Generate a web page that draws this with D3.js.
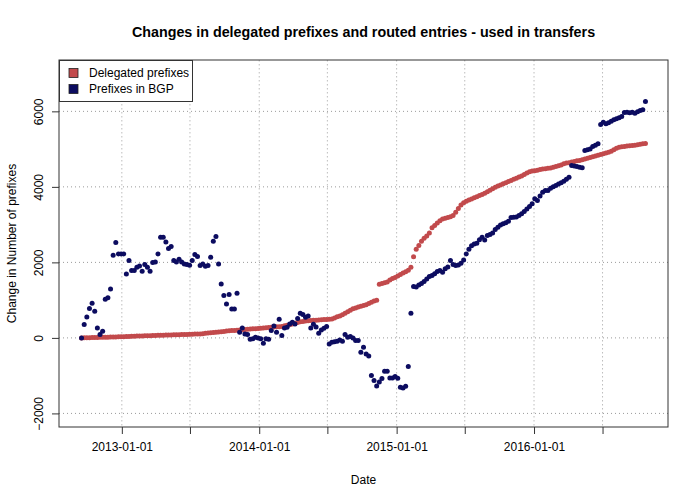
<!DOCTYPE html>
<html>
<head>
<meta charset="utf-8">
<script src="https://cdn.jsdelivr.net/npm/d3@7"></script>
<style>
  html, body { margin: 0; padding: 0; background: #fff; }
  svg text { font-family: "Liberation Sans", Arial, Helvetica, sans-serif; }
</style>
</head>
<body>
<svg id="chart" width="700" height="500"></svg>
<script>
// ---- Data (weekly observations) ----
const dates = [
  "2012-09-16","2012-09-23","2012-09-30","2012-10-07","2012-10-14","2012-10-21","2012-10-28","2012-11-04","2012-11-11","2012-11-18","2012-11-25","2012-12-02","2012-12-09","2012-12-16","2012-12-23","2012-12-30",
  "2013-01-06","2013-01-13","2013-01-20","2013-01-27","2013-02-03","2013-02-10","2013-02-17","2013-02-24","2013-03-03","2013-03-10","2013-03-17","2013-03-24","2013-03-31","2013-04-07","2013-04-14","2013-04-21","2013-04-28","2013-05-05","2013-05-12","2013-05-19","2013-05-26","2013-06-02","2013-06-09","2013-06-16","2013-06-23","2013-06-30","2013-07-07","2013-07-14","2013-07-21","2013-07-28","2013-08-04","2013-08-11","2013-08-18","2013-08-25","2013-09-01","2013-09-08","2013-09-15","2013-09-22","2013-09-29","2013-10-06","2013-10-13","2013-10-20","2013-10-27","2013-11-03","2013-11-10","2013-11-17","2013-11-24","2013-12-01","2013-12-08","2013-12-15","2013-12-22","2013-12-29",
  "2014-01-05","2014-01-12","2014-01-19","2014-01-26","2014-02-02","2014-02-09","2014-02-16","2014-02-23","2014-03-02","2014-03-09","2014-03-16","2014-03-23","2014-03-30","2014-04-06","2014-04-13","2014-04-20","2014-04-27","2014-05-04","2014-05-11","2014-05-18","2014-05-25","2014-06-01","2014-06-08","2014-06-15","2014-06-22","2014-06-29","2014-07-06","2014-07-13","2014-07-20","2014-07-27","2014-08-03","2014-08-10","2014-08-17","2014-08-24","2014-08-31","2014-09-07","2014-09-14","2014-09-21","2014-09-28","2014-10-05","2014-10-12","2014-10-19","2014-10-26","2014-11-02","2014-11-09","2014-11-16","2014-11-23","2014-11-30","2014-12-07","2014-12-14","2014-12-21","2014-12-28",
  "2015-01-04","2015-01-11","2015-01-18","2015-01-25","2015-02-01","2015-02-08","2015-02-15","2015-02-22","2015-03-01","2015-03-08","2015-03-15","2015-03-22","2015-03-29","2015-04-05","2015-04-12","2015-04-19","2015-04-26","2015-05-03","2015-05-10","2015-05-17","2015-05-24","2015-05-31","2015-06-07","2015-06-14","2015-06-21","2015-06-28","2015-07-05","2015-07-12","2015-07-19","2015-07-26","2015-08-02","2015-08-09","2015-08-16","2015-08-23","2015-08-30","2015-09-06","2015-09-13","2015-09-20","2015-09-27","2015-10-04","2015-10-11","2015-10-18","2015-10-25","2015-11-01","2015-11-08","2015-11-15","2015-11-22","2015-11-29","2015-12-06","2015-12-13","2015-12-20","2015-12-27",
  "2016-01-03","2016-01-10","2016-01-17","2016-01-24","2016-01-31","2016-02-07","2016-02-14","2016-02-21","2016-02-28","2016-03-06","2016-03-13","2016-03-20","2016-03-27","2016-04-03","2016-04-10","2016-04-17","2016-04-24","2016-05-01","2016-05-08","2016-05-15","2016-05-22","2016-05-29","2016-06-05","2016-06-12","2016-06-19","2016-06-26","2016-07-03","2016-07-10","2016-07-17","2016-07-24","2016-07-31","2016-08-07","2016-08-14","2016-08-21","2016-08-28","2016-09-04","2016-09-11","2016-09-18","2016-09-25","2016-10-02","2016-10-09","2016-10-16","2016-10-23"
];

const delegated = [
  0,2,4,6,8,10,12,14,16,18,
  20,22,24,26,28,30,33,36,38,41,
  44,47,50,52,55,58,60,63,66,68,
  70,72,74,77,79,82,84,86,89,91,
  93,96,98,100,103,105,112,120,127,135,
  142,150,157,165,172,180,188,193,199,205,
  211,216,222,228,234,240,245,251,257,262,
  268,274,280,286,292,298,305,320,335,350,
  370,390,410,425,435,445,455,460,465,470,
  475,480,485,490,495,500,525,560,580,610,
  650,690,730,770,795,815,835,855,880,910,
  945,980,1000,1420,1440,1460,1480,1530,1570,1600,
  1640,1680,1720,1750,1790,1870,2150,2350,2450,2560,
  2640,2700,2780,2920,2980,3040,3100,3150,3170,3190,
  3210,3240,3330,3430,3520,3580,3620,3650,3680,3710,
  3740,3770,3800,3830,3870,3910,3950,3990,4020,4050,
  4080,4110,4140,4170,4200,4230,4260,4290,4330,4370,
  4400,4420,4430,4440,4460,4470,4480,4490,4500,4520,
  4540,4560,4580,4610,4630,4640,4660,4670,4690,4700,
  4720,4740,4760,4780,4800,4820,4840,4860,4880,4900,
  4920,4940,4980,5020,5050,5060,5070,5080,5090,5095,
  5105,5115,5130,5140,5150
];

const bgp = [
  0,352,556,776,917,705,265,87,175,1023,
  1060,1298,2188,2525,2225,2225,2225,1695,2048,1783,
  1783,1870,1907,1764,1942,1870,1764,1995,2013,2225,
  2665,2665,2543,2366,2419,2048,2013,2083,2013,1960,
  1942,1923,2048,2207,2154,1915,1960,1897,1915,2136,
  2560,2684,1960,1430,1121,900,1147,768,768,1182,
  148,265,106,87,-37,-26,16,0,-26,-143,
  -26,-37,193,318,148,493,61,265,281,371,
  413,371,511,652,617,546,583,265,360,290,
  122,212,254,299,-159,-117,-100,-90,-53,-90,
  87,16,34,0,-72,-72,-381,-249,-424,-477,
  -999,-1131,-1272,-1166,-1078,-885,-885,-1060,-1060,-1025,
  -1070,-1309,-1325,-1282,-760,652,1359,1350,1400,1440,
  1491,1560,1624,1650,1700,1760,1783,1738,1828,1880,
  2048,1942,1915,1930,1976,2060,2225,2350,2440,2490,
  2506,2600,2665,2596,2710,2740,2780,2870,2930,2990,
  3020,3050,3090,3190,3195,3200,3240,3285,3350,3417,
  3480,3550,3682,3637,3760,3857,3902,3902,3960,4000,
  4034,4079,4110,4150,4200,4254,4564,4550,4538,4520,
  4503,4961,4980,5006,5067,5100,5139,5650,5711,5669,
  5700,5738,5775,5801,5830,5862,5968,5976,5960,5976,
  5950,5990,6021,6040,6260
];

const xTickDates = ["2013-01-01","2013-07-01","2014-01-01","2014-07-01","2015-01-01","2015-07-01","2016-01-01","2016-07-01"];
const xTickLabels = ["2013-01-01","","2014-01-01","","2015-01-01","","2016-01-01",""];
const yTicks = [-2000, 0, 2000, 4000, 6000];
const yLimits = [-2000, 7000];
const seriesNames = ["Delegated prefixes", "Prefixes in BGP"];
const seriesColors = ["#c24a4c", "#0c0c60"];

// ---- Layout ----
const svg = d3.select("#chart");
const margin = { left: 59, right: 32, top: 60, bottom: 73 };
const W = 700, H = 500;
const parse = d3.utcParse("%Y-%m-%d");
const xs = dates.map(parse);

const xExt = d3.extent(xs);
const xPad = (xExt[1] - xExt[0]) * 0.04;
const x = d3.scaleUtc()
  .domain([new Date(+xExt[0] - xPad), new Date(+xExt[1] + xPad)])
  .range([margin.left, W - margin.right]);

const yPad = (yLimits[1] - yLimits[0]) * 0.04;
const y = d3.scaleLinear()
  .domain([yLimits[0] - yPad, yLimits[1] + yPad])
  .range([H - margin.bottom, margin.top]);

const x0 = margin.left, x1 = W - margin.right, y0 = margin.top, y1 = H - margin.bottom;

// grid
const grid = svg.append("g");
grid.selectAll("line.v").data(xTickDates).join("line")
  .attr("x1", d => x(parse(d))).attr("x2", d => x(parse(d)))
  .attr("y1", y0).attr("y2", y1)
  .attr("stroke", "#bdbdbd").attr("stroke-width", 1).attr("stroke-dasharray", "1.5,2.5");
grid.selectAll("line.h").data(yTicks).join("line")
  .attr("x1", x0).attr("x2", x1)
  .attr("y1", d => y(d)).attr("y2", d => y(d))
  .attr("stroke", "#9a9a9a").attr("stroke-width", 1).attr("stroke-dasharray", "1,3");

// points
const series = [delegated, bgp];
series.forEach((vals, si) => {
  svg.append("g").selectAll("circle").data(vals).join("circle")
    .attr("cx", (d, i) => x(xs[i]))
    .attr("cy", d => y(d))
    .attr("r", 2.5)
    .attr("fill", seriesColors[si]);
});

// axes
const xAxis = d3.axisBottom(x)
  .tickValues(xTickDates.map(parse))
  .tickSize(7).tickPadding(8)
  .tickFormat((d, i) => xTickLabels[i]);
const gx = svg.append("g").attr("transform", `translate(0,${y1})`).call(xAxis);
gx.select(".domain").remove();
gx.selectAll("line").attr("stroke", "#333");
gx.selectAll("text").attr("font-size", 12).attr("fill", "#000");

const yAxis = d3.axisLeft(y).tickValues(yTicks).tickSize(7).tickFormat(d3.format("d"));
const gy = svg.append("g").attr("transform", `translate(${x0},0)`).call(yAxis);
gy.select(".domain").remove();
gy.selectAll("line").attr("stroke", "#333");
gy.selectAll("text")
  .attr("font-size", 12).attr("fill", "#000")
  .attr("text-anchor", "middle").attr("dy", null)
  .attr("x", null)
  .attr("transform", "translate(-16,0) rotate(-90)")
  .attr("y", 0);

// box
svg.append("rect")
  .attr("x", x0).attr("y", y0).attr("width", x1 - x0).attr("height", y1 - y0)
  .attr("fill", "none").attr("stroke", "#333").attr("stroke-width", 1);

// legend
const lg = svg.append("g");
lg.append("rect").attr("x", x0 + 0.5).attr("y", y0 + 0.5).attr("width", 133).attr("height", 41)
  .attr("fill", "#fff").attr("stroke", "#333");
seriesNames.forEach((name, i) => {
  const cy = y0 + 13 + i * 16;
  lg.append("rect").attr("x", x0 + 10).attr("y", cy - 4.5).attr("width", 9).attr("height", 9)
    .attr("fill", seriesColors[i]).attr("stroke", "#222").attr("stroke-width", 0.8);
  lg.append("text").attr("x", x0 + 30).attr("y", cy + 4.3).attr("font-size", 12).text(name);
});

// titles
svg.append("text").attr("x", (x0 + x1) / 2).attr("y", 37).attr("text-anchor", "middle")
  .attr("font-size", 14.3).attr("font-weight", "bold")
  .text("Changes in delegated prefixes and routed entries - used in transfers");
svg.append("text").attr("x", (x0 + x1) / 2).attr("y", 484).attr("text-anchor", "middle")
  .attr("font-size", 12).text("Date");
svg.append("text").attr("transform", `translate(16,${(y0 + y1) / 2}) rotate(-90)`)
  .attr("text-anchor", "middle").attr("font-size", 12).text("Change in Number of prefixes");
</script>
</body>
</html>
